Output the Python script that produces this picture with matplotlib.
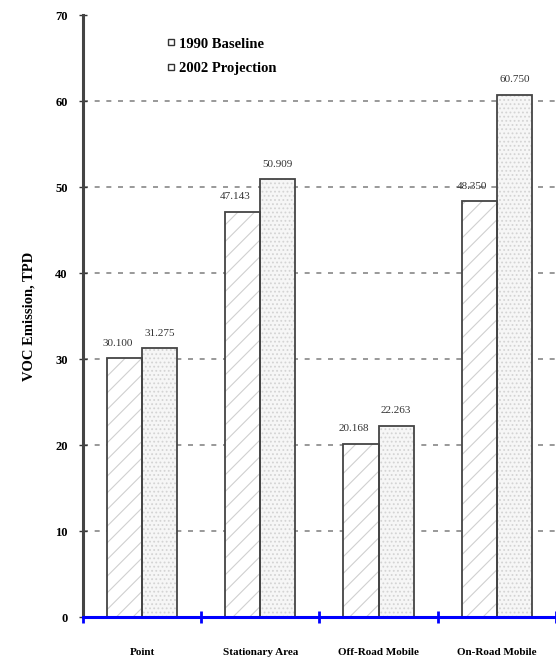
import numpy as np
import matplotlib.pyplot as plt
from matplotlib.lines import Line2D

categories = ['Point', 'Stationary Area', 'Off-Road Mobile', 'On-Road Mobile']
baseline_1990 = [30.100, 47.143, 20.168, 48.350]
projection_2002 = [31.275, 50.909, 22.263, 60.750]
yticks = [0, 10, 20, 30, 40, 50, 60, 70]

plt.rcParams['font.family'] = ['Liberation Serif', 'DejaVu Serif']
plt.rcParams['hatch.linewidth'] = 0.8

fig = plt.figure(figsize=(5.56, 6.6), dpi=100)
ax = fig.add_axes([0.149, 0.065, 0.851, 0.912])

x = np.arange(len(categories)) + 0.5
w = 0.297

# hatch layer (light) then outline layer (dark)
ax.bar(x - w / 2, baseline_1990, w, color='white', edgecolor='#d0d0d0',
       linewidth=0, hatch='//', zorder=3)
ax.bar(x + w / 2, projection_2002, w, color='#f6f6f6', edgecolor='#d4d4d4',
       linewidth=0, hatch='....', zorder=3)
b1 = ax.bar(x - w / 2, baseline_1990, w, fill=False, edgecolor='#444444',
            linewidth=1.3, zorder=4)
b2 = ax.bar(x + w / 2, projection_2002, w, fill=False, edgecolor='#444444',
            linewidth=1.3, zorder=4)

for bars, vals, dx in [(b1, baseline_1990, -0.06), (b2, projection_2002, 0.0)]:
    for r, v in zip(bars, vals):
        ax.text(r.get_x() + r.get_width() / 2 + dx, v + 1.2, f'{v:.3f}',
                ha='center', va='bottom', fontsize=8, color='#333333', zorder=5)

ax.set_xlim(0, 4)
ax.set_ylim(0, 70)
ax.set_yticks(yticks)
ax.set_yticklabels([str(t) for t in yticks], fontweight='bold', fontsize=9)
for t in yticks[1:-1]:
    ax.axhline(t, linestyle=(0, (3, 4)), color='#888888', linewidth=1.2, zorder=1)

ax.set_xticks([0, 1, 2, 3, 4])
ax.set_xticklabels([])
ax.set_xticks(x, minor=True)
ax.set_xticklabels(categories, minor=True, fontweight='bold', fontsize=8)
ax.tick_params(axis='x', which='minor', length=0, pad=22)
ax.tick_params(axis='x', which='major', direction='inout', length=8, width=2, color='blue')
ax.tick_params(axis='y', direction='inout', length=6, width=1, color='#333333', pad=8)

ax.spines['top'].set_visible(False)
ax.spines['right'].set_visible(False)
ax.spines['left'].set_color('#444444')
ax.spines['left'].set_linewidth(2.2)
ax.spines['bottom'].set_color('blue')
ax.spines['bottom'].set_linewidth(2.2)
ax.spines['bottom'].set_zorder(6)

ax.set_ylabel('VOC Emission, TPD', fontweight='bold', fontsize=10.5, labelpad=14)

handles = [Line2D([], [], marker='s', linestyle='none', markersize=5,
                  markerfacecolor='white', markeredgecolor='#333333', markeredgewidth=1),
           Line2D([], [], marker='s', linestyle='none', markersize=5,
                  markerfacecolor='white', markeredgecolor='#333333', markeredgewidth=1)]
ax.legend(handles, ['1990 Baseline', '2002 Projection'], loc='upper left',
          bbox_to_anchor=(0.15, 0.985), frameon=False, handlelength=0.6,
          handletextpad=0.2, labelspacing=0.8, prop={'weight': 'bold', 'size': 10.5})

fig.savefig('out.png', dpi=100)
